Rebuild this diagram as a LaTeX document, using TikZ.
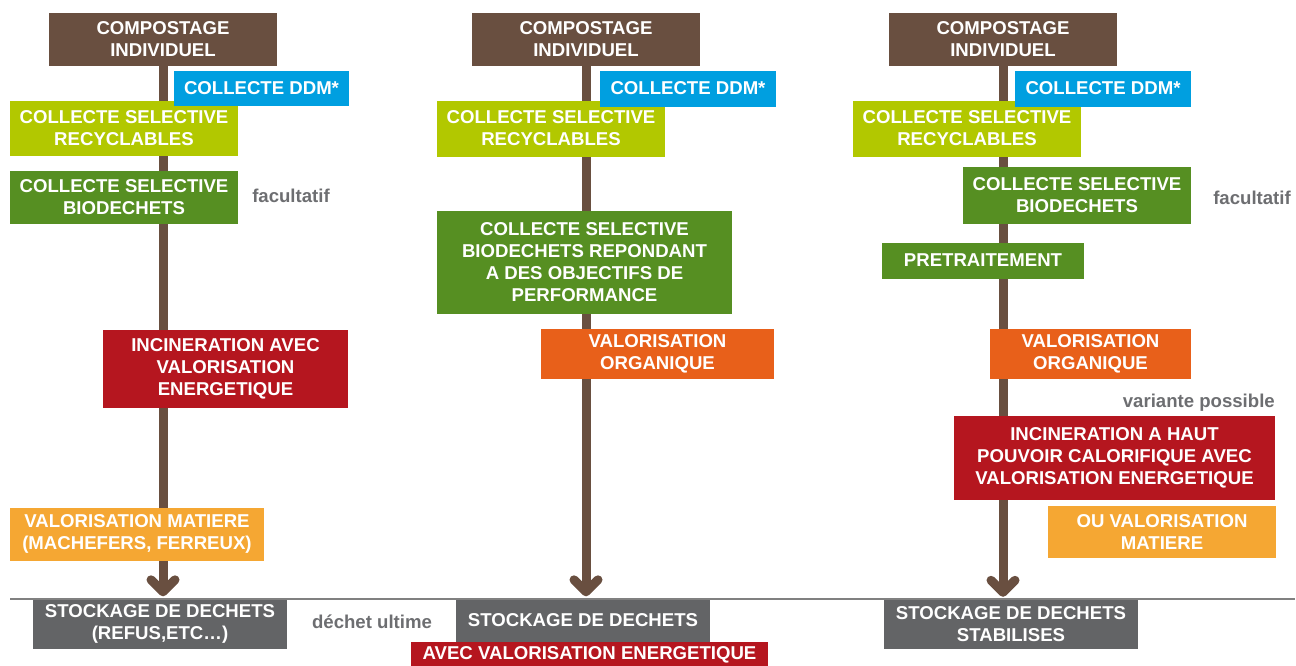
\documentclass[tikz,border=0pt]{standalone}
\usepackage{fontspec}
\newfontfamily\lab{Liberation Sans}
\usetikzlibrary{arrows.meta,backgrounds}
\definecolor{brownc}{HTML}{694F40}
\definecolor{bluec}{HTML}{009FE0}
\definecolor{limec}{HTML}{B2C800}
\definecolor{greenc}{HTML}{568F22}
\definecolor{redc}{HTML}{B5161F}
\definecolor{orgc}{HTML}{E8601A}
\definecolor{matc}{HTML}{F5A733}
\definecolor{stockc}{HTML}{636466}
\definecolor{notec}{HTML}{6D6E71}
\definecolor{groundc}{HTML}{808080}

\begin{document}
\begin{tikzpicture}[x=1pt,y=-1pt,
  box/.style={inner sep=0pt,align=center,text=white,font=\lab\bfseries\fontsize{18.6}{22}\selectfont},
  note/.style={inner sep=0pt,text=notec,font=\lab\bfseries\fontsize{18.6}{22}\selectfont},
  trunk/.style={draw=brownc,line width=9pt,shorten >=3pt,-{Straight Barb[length=12pt,width=24pt,round]}},
  ground/.style={draw=groundc,line width=2pt}
]
\useasboundingbox (0,0) rectangle (1296,665);

% colonne 1
\node[box,fill=brownc,minimum width=228,minimum height=53] (comp1) at (163,39) {COMPOSTAGE\\INDIVIDUEL};
\node[box,fill=limec,minimum width=228,minimum height=55] (recy1) at (124,128.5) {COLLECTE SELECTIVE\\RECYCLABLES};
\node[box,fill=bluec,minimum width=175,minimum height=35] (ddm1) at (261.5,88) {COLLECTE DDM*};
\node[box,fill=greenc,minimum width=228,minimum height=53] (bio1) at (124,197) {COLLECTE SELECTIVE\\BIODECHETS};
\node[note] (fac1) at (291,196) {facultatif};
\node[box,fill=redc,minimum width=245,minimum height=78] (inc1) at (225.5,369) {INCINERATION AVEC\\VALORISATION\\ENERGETIQUE};
\node[box,fill=matc,minimum width=254,minimum height=53] (mat1) at (137,534) {VALORISATION MATIERE\\(MACHEFERS, FERREUX)};
\node[box,fill=stockc,minimum width=254,minimum height=49] (stock1) at (160,624) {STOCKAGE DE DECHETS\\(REFUS,ETC\ldots)};
\node[note] (ult) at (372,622) {déchet ultime};

% colonne 2
\node[box,fill=brownc,minimum width=228,minimum height=53] (comp2) at (586,39) {COMPOSTAGE\\INDIVIDUEL};
\node[box,fill=limec,minimum width=228,minimum height=56] (recy2) at (551,128.5) {COLLECTE SELECTIVE\\RECYCLABLES};
\node[box,fill=bluec,minimum width=176,minimum height=36] (ddm2) at (688,88.5) {COLLECTE DDM*};
\node[box,fill=greenc,minimum width=295,minimum height=103] (bio2) at (584.5,262) {COLLECTE SELECTIVE\\BIODECHETS REPONDANT\\A DES OBJECTIFS DE\\PERFORMANCE};
\node[box,fill=orgc,minimum width=233,minimum height=50] (org2) at (657.5,353.5) {VALORISATION\\ORGANIQUE};
\node[box,fill=stockc,minimum width=254,minimum height=42] (stock2) at (583,620.5) {STOCKAGE DE DECHETS};
\node[box,fill=redc,minimum width=357,minimum height=26] (avec2) at (589.5,654.5) {AVEC VALORISATION ENERGETIQUE};

% colonne 3
\node[box,fill=brownc,minimum width=228,minimum height=53] (comp3) at (1003,39) {COMPOSTAGE\\INDIVIDUEL};
\node[box,fill=limec,minimum width=228,minimum height=56] (recy3) at (967,128.5) {COLLECTE SELECTIVE\\RECYCLABLES};
\node[box,fill=bluec,minimum width=176,minimum height=36] (ddm3) at (1103,88.5) {COLLECTE DDM*};
\node[box,fill=greenc,minimum width=228,minimum height=57] (bio3) at (1077,195) {COLLECTE SELECTIVE\\BIODECHETS};
\node[note] (fac3) at (1252,198) {facultatif};
\node[box,fill=greenc,minimum width=202,minimum height=36] (pre3) at (983,260.5) {PRETRAITEMENT};
\node[box,fill=orgc,minimum width=201,minimum height=50] (org3) at (1090.5,353.5) {VALORISATION\\ORGANIQUE};
\node[note,anchor=east] (var3) at (1275,403) {variante possible};
\node[box,fill=redc,minimum width=321,minimum height=84] (inc3) at (1114.5,457.5) {INCINERATION A HAUT\\POUVOIR CALORIFIQUE AVEC\\VALORISATION ENERGETIQUE};
\node[box,fill=matc,minimum width=228,minimum height=52] (mat3) at (1162,531.5) {OU VALORISATION\\MATIERE};
\node[box,fill=stockc,minimum width=254,minimum height=49] (stock3) at (1011,624.5) {STOCKAGE DE DECHETS\\STABILISES};

\begin{scope}[on background layer]
\draw[ground] (10,599) -- (1295,599);
\draw[trunk] (comp1) -- (comp1 |- stock1.north);
\draw[trunk] (comp2) -- (comp2 |- stock2.north);
\draw[trunk] (comp3) -- (comp3 |- stock3.north);
\end{scope}
\end{tikzpicture}
\end{document}
